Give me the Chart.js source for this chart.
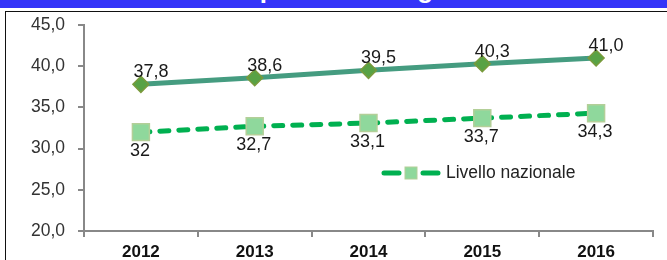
<!DOCTYPE html>
<html><head><meta charset="utf-8">
<script src="https://cdn.jsdelivr.net/npm/chart.js@4/dist/chart.umd.min.js"></script>
<style>
html,body{margin:0;padding:0;background:#fff;width:667px;height:260px;overflow:hidden;font-family:"Liberation Sans",Arial,sans-serif}
#bar{position:absolute;left:0;top:0;width:667px;height:8px;background:#3434f8;overflow:hidden}
#bar span{position:absolute;left:0;width:667px;top:-24px;text-align:center;color:#fff;font:bold 26px/26px "Liberation Sans",Arial,sans-serif;white-space:nowrap}
#box{position:absolute;left:5px;top:11px;width:700px;height:300px;border:1.5px solid #111}
#wrap{position:absolute;left:0;top:0;width:667px;height:260px}
</style></head><body>
<div id="bar"><span id="title"></span></div>
<div id="box"></div>
<div id="wrap"><canvas id="c" width="667" height="260"></canvas></div>
<script>
const titleText = "Indice di dipendenza degli anziani";
const years = ["2012","2013","2014","2015","2016"];
const regionale = [37.8, 38.6, 39.5, 40.3, 41.0];
const nazionale = [32.0, 32.7, 33.1, 33.7, 34.3];
const regionaleLabels = ["37,8","38,6","39,5","40,3","41,0"];
const nazionaleLabels = ["32","32,7","33,1","33,7","34,3"];
const legendText = "Livello nazionale";

document.getElementById('title').textContent = titleText;
const FONT = '"Liberation Sans", Arial, sans-serif';
Chart.defaults.font.family = FONT;

const labelPlugin = {
  id: 'dl',
  afterDatasetsDraw(chart) {
    const ctx = chart.ctx;
    ctx.save();
    ctx.font = '18px ' + FONT;
    ctx.fillStyle = '#1a1a1a';
    ctx.textAlign = 'center';
    ctx.textBaseline = 'middle';
    chart.getDatasetMeta(0).data.forEach((p, i) => ctx.fillText(regionaleLabels[i], p.x + 10, p.y - 12));
    chart.getDatasetMeta(1).data.forEach((p, i) => ctx.fillText(nazionaleLabels[i], p.x - 1, p.y + 19));
    ctx.restore();
  }
};

const legendPlugin = {
  id: 'lg',
  afterDraw(chart) {
    const ds = chart.data.datasets[1];
    const a = chart.chartArea;
    const x0 = a.left + 300, y = a.top + 148;
    const ctx = chart.ctx;
    ctx.save();
    ctx.strokeStyle = ds.borderColor;
    ctx.lineWidth = 5;
    ctx.lineCap = 'round';
    ctx.beginPath();
    ctx.moveTo(x0, y); ctx.lineTo(x0 + 15, y);
    ctx.moveTo(x0 + 39, y); ctx.lineTo(x0 + 54, y);
    ctx.stroke();
    ctx.fillStyle = ds.pointBackgroundColor;
    ctx.strokeStyle = ds.pointBorderColor;
    ctx.lineWidth = 1;
    ctx.fillRect(x0 + 21, y - 6, 12, 12);
    ctx.strokeRect(x0 + 21, y - 6, 12, 12);
    ctx.font = '17.5px ' + FONT;
    ctx.fillStyle = '#222';
    ctx.textAlign = 'left';
    ctx.textBaseline = 'middle';
    ctx.fillText(legendText, x0 + 62, y);
    ctx.restore();
  }
};

new Chart(document.getElementById('c'), {
  type: 'line',
  data: {
    labels: years,
    datasets: [
      {
        label: 'Livello regionale',
        data: regionale,
        borderColor: '#459c80',
        borderWidth: 5,
        pointStyle: 'rectRot',
        pointRadius: 8,
        pointBackgroundColor: '#58a245',
        pointBorderColor: '#7a9a3c',
        pointBorderWidth: 1.5,
        tension: 0
      },
      {
        label: legendText,
        data: nazionale,
        borderColor: '#00b050',
        borderWidth: 5,
        borderDash: [9, 10],
        borderCapStyle: 'round',
        pointStyle: 'rect',
        pointRadius: 12,
        pointBackgroundColor: '#8fd89c',
        pointBorderColor: '#b3cf98',
        pointBorderWidth: 1.5,
        tension: 0
      }
    ]
  },
  options: {
    responsive: false,
    animation: false,
    devicePixelRatio: 1,
    layout: { padding: { top: 25, right: 14, left: 0, bottom: 0 } },
    plugins: { legend: { display: false }, tooltip: { enabled: false } },
    scales: {
      x: {
        offset: true,
        grid: { offset: true, drawOnChartArea: false, drawTicks: true, tickLength: 6, color: '#888', lineWidth: 2 },
        border: { color: '#888', width: 2 },
        ticks: { font: { size: 17, weight: 'bold' }, color: '#111', padding: 5 },
        afterFit: s => { s.height = 29; }
      },
      y: {
        min: 20, max: 45,
        ticks: { stepSize: 5, font: { size: 17.5 }, color: '#333', padding: 13,
          callback: v => v.toFixed(1).replace('.', ',') },
        grid: { drawOnChartArea: false, drawTicks: true, tickLength: 6, color: '#888', lineWidth: 2 },
        border: { color: '#888', width: 2 },
        afterFit: s => { s.width = 84; }
      }
    }
  },
  plugins: [labelPlugin, legendPlugin]
});
</script>
</body></html>
